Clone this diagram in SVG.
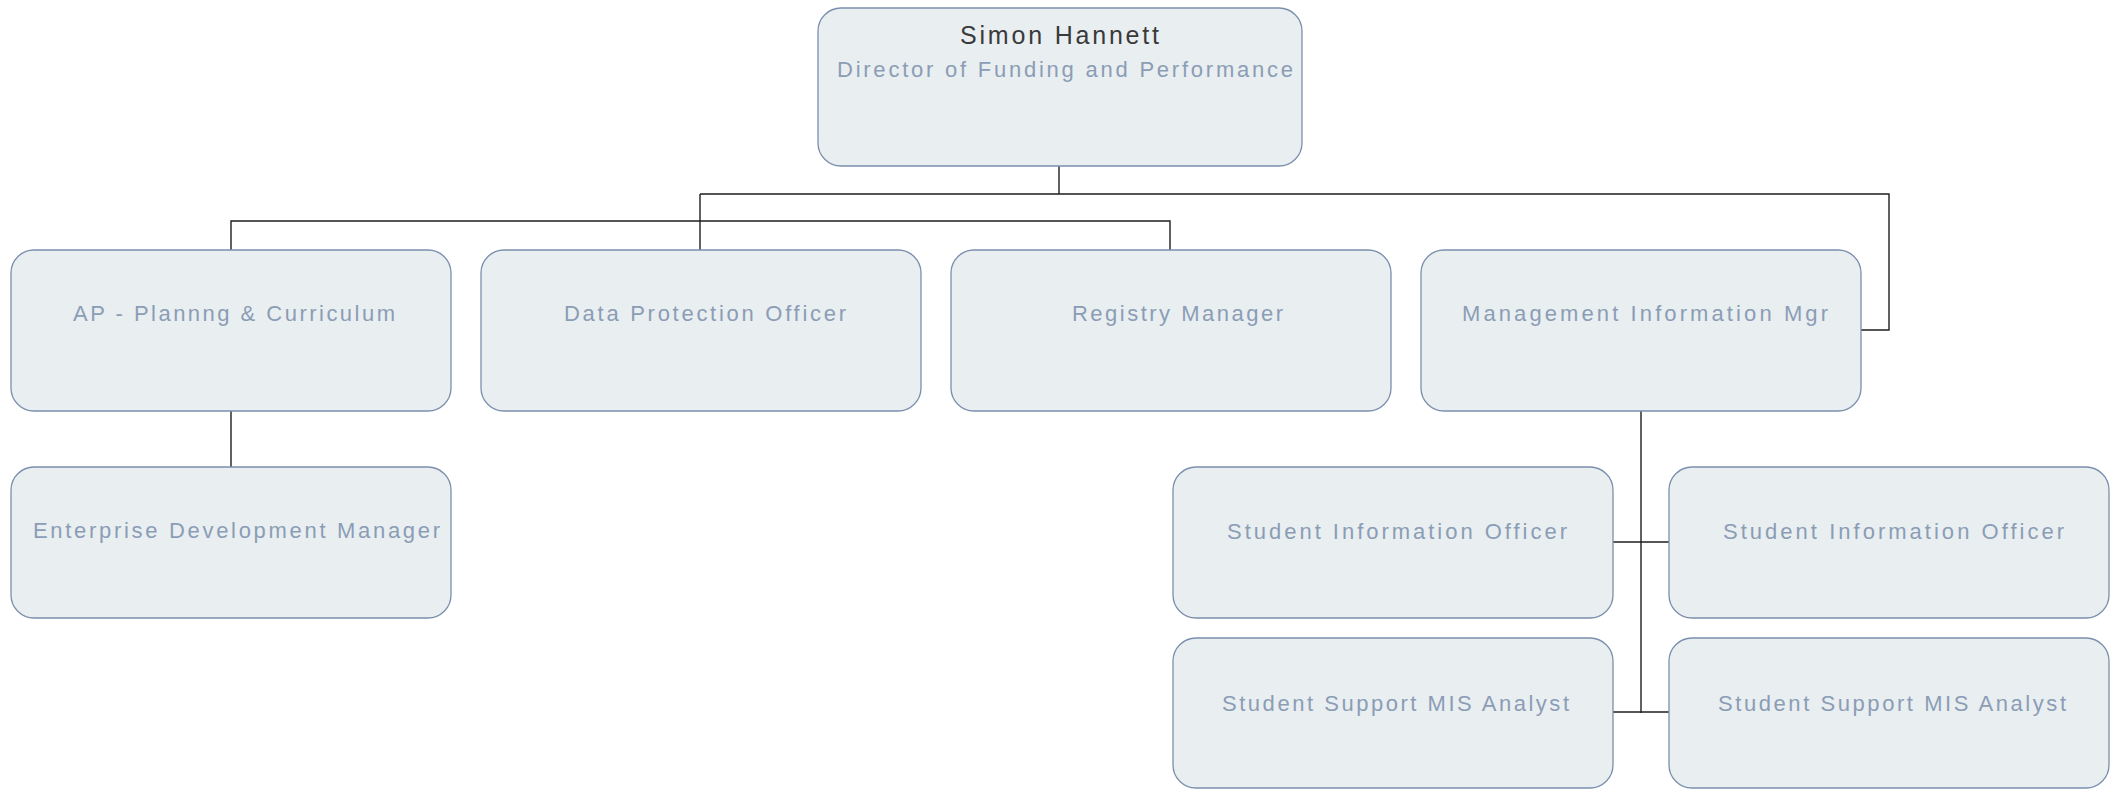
<svg xmlns="http://www.w3.org/2000/svg" width="2116" height="789" viewBox="0 0 2116 789">
<style>
.box{fill:#e9eef1;stroke:#7b8fad;stroke-width:1.3}
.lbl{font-family:"Liberation Sans",Arial,sans-serif;font-size:22px;fill:#8b9db5}
.name{font-family:"Liberation Sans",Arial,sans-serif;font-size:25px;fill:#3a3a3a}
.conn{fill:none;stroke:#1e1e1e;stroke-width:1.4}
</style>
<rect width="2116" height="789" fill="#ffffff"/>
<g id="connectors">
<path class="conn" d="M1059,166 V194"/>
<path class="conn" d="M700,194 H1889 V330 H1861"/>
<path class="conn" d="M700,194 V250"/>
<path class="conn" d="M231,250 V221 H1170 V250"/>
<path class="conn" d="M231,411 V467"/>
<path class="conn" d="M1641,411 V713"/>
<path class="conn" d="M1613,542 H1669"/>
<path class="conn" d="M1613,712 H1669"/>
</g>
<g id="node-director">
<rect class="box" x="818" y="8" width="484" height="158" rx="23"/>
<text class="name" x="960" y="44" textLength="199" lengthAdjust="spacing">Simon Hannett</text>
<text class="lbl" x="837" y="77" textLength="456" lengthAdjust="spacing">Director of Funding and Performance</text>
</g>
<g id="node-ap">
<rect class="box" x="11" y="250" width="440" height="161" rx="23"/>
<text class="lbl" x="73" y="321" textLength="322" lengthAdjust="spacing">AP - Plannng &amp; Curriculum</text>
</g>
<g id="node-dpo">
<rect class="box" x="481" y="250" width="440" height="161" rx="23"/>
<text class="lbl" x="564" y="321" textLength="282" lengthAdjust="spacing">Data Protection Officer</text>
</g>
<g id="node-registry">
<rect class="box" x="951" y="250" width="440" height="161" rx="23"/>
<text class="lbl" x="1072" y="321" textLength="211" lengthAdjust="spacing">Registry Manager</text>
</g>
<g id="node-mim">
<rect class="box" x="1421" y="250" width="440" height="161" rx="23"/>
<text class="lbl" x="1462" y="321" textLength="366" lengthAdjust="spacing">Management Information Mgr</text>
</g>
<g id="node-enterprise">
<rect class="box" x="11" y="467" width="440" height="151" rx="23"/>
<text class="lbl" x="33" y="538" textLength="407" lengthAdjust="spacing">Enterprise Development Manager</text>
</g>
<g id="node-sio1">
<rect class="box" x="1173" y="467" width="440" height="151" rx="23"/>
<text class="lbl" x="1227" y="539" textLength="340" lengthAdjust="spacing">Student Information Officer</text>
</g>
<g id="node-sio2">
<rect class="box" x="1669" y="467" width="440" height="151" rx="23"/>
<text class="lbl" x="1723" y="539" textLength="341" lengthAdjust="spacing">Student Information Officer</text>
</g>
<g id="node-ssma1">
<rect class="box" x="1173" y="638" width="440" height="150" rx="23"/>
<text class="lbl" x="1222" y="711" textLength="347" lengthAdjust="spacing">Student Support MIS Analyst</text>
</g>
<g id="node-ssma2">
<rect class="box" x="1669" y="638" width="440" height="150" rx="23"/>
<text class="lbl" x="1718" y="711" textLength="348" lengthAdjust="spacing">Student Support MIS Analyst</text>
</g>
</svg>
